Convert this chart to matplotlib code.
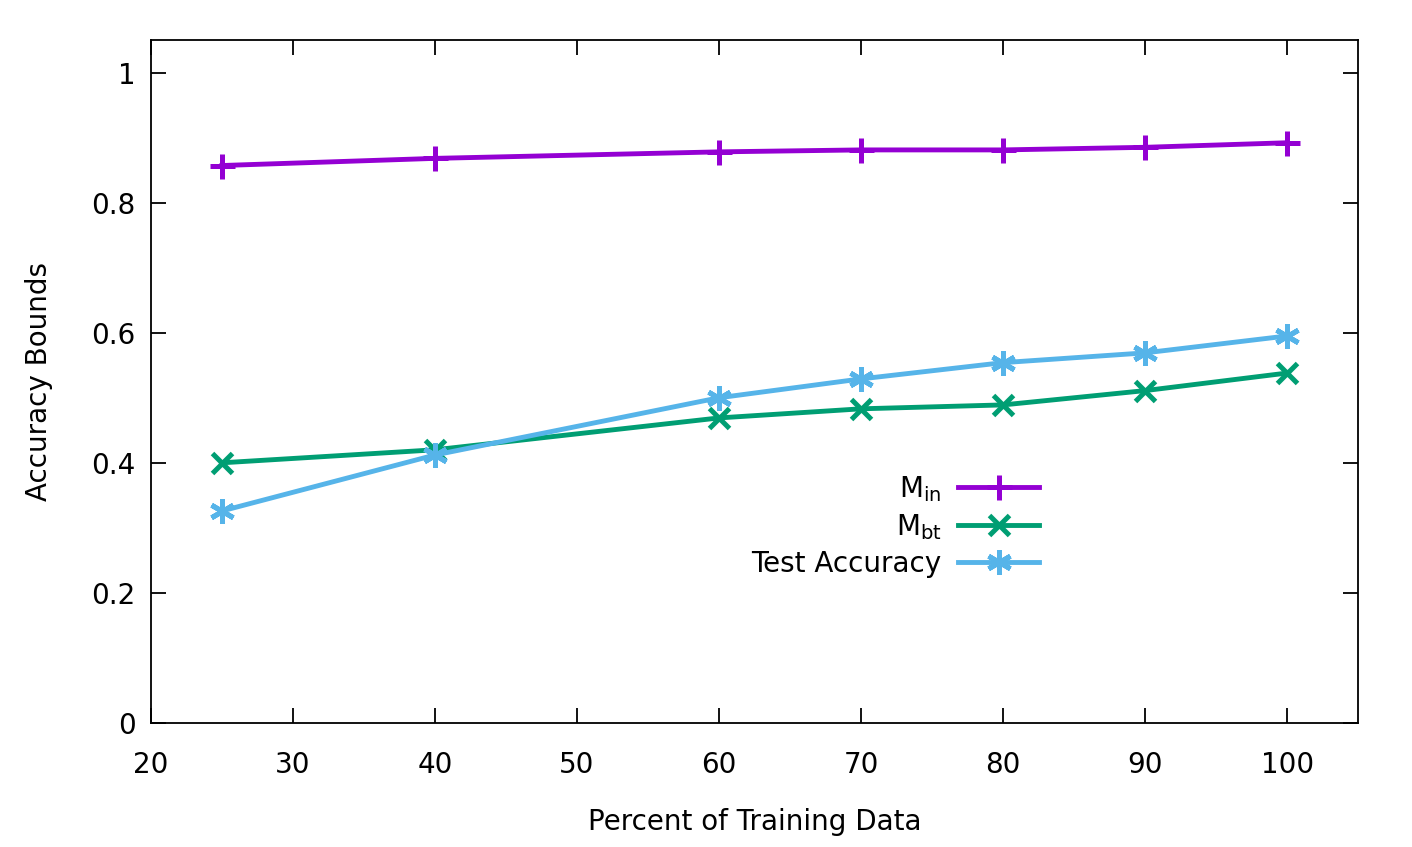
import matplotlib
matplotlib.use('Agg')
import matplotlib.pyplot as plt

pct = [25, 40, 60, 70, 80, 90, 100]
m_in = [0.857, 0.868, 0.878, 0.881, 0.881, 0.885, 0.892]
m_bt = [0.400, 0.420, 0.469, 0.483, 0.489, 0.511, 0.538]
test_acc = [0.326, 0.412, 0.500, 0.529, 0.554, 0.569, 0.595]

plt.rcParams['font.family'] = 'DejaVu Sans'
plt.rcParams['mathtext.fontset'] = 'dejavusans'

fig = plt.figure(figsize=(14.12, 8.47), dpi=100)
ax = fig.add_axes([0.1069, 0.1464, 0.855, 0.8064])

asterisk = (6, 2, 0)
ax.plot(pct, m_in, color='#9400d3', lw=3.5, marker='+', ms=18, mew=3.6,
        label=r'$\mathregular{M_{in}}$')
ax.plot(pct, m_bt, color='#009e73', lw=3.5, marker='x', ms=15, mew=3.6,
        label=r'$\mathregular{M_{bt}}$')
ax.plot(pct, test_acc, color='#56b4e9', lw=3.5, marker=asterisk, ms=18, mew=3.6,
        label='Test Accuracy')

ax.set_xlim(20, 105)
ax.set_ylim(0, 1.05)
ax.set_xticks(range(20, 101, 10))
ax.set_yticks([0, 0.2, 0.4, 0.6, 0.8, 1])
ax.set_yticklabels(['0', '0.2', '0.4', '0.6', '0.8', '1'])
ax.tick_params(direction='in', length=11, width=1.3, top=True, right=True,
               labelsize=20)
ax.tick_params(axis='x', pad=20)
ax.tick_params(axis='y', pad=11)
for s in ax.spines.values():
    s.set_linewidth(1.3)

ax.set_xlabel('Percent of Training Data', fontsize=20, labelpad=21)
ax.set_ylabel('Accuracy Bounds', fontsize=20, labelpad=28)

ax.legend(loc='upper right', bbox_to_anchor=(0.747, 0.385), frameon=False,
          markerfirst=False, fontsize=20, handlelength=2.9, borderpad=0,
          labelspacing=0.3, handletextpad=0.6)

fig.savefig('out.png', dpi=100)
